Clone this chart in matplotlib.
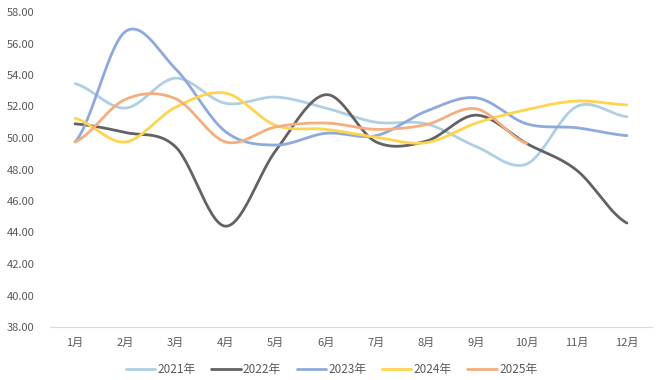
import matplotlib.pyplot as plt
import numpy as np

plt.rcParams['font.family'] = ['Noto Sans CJK SC', 'DejaVu Sans']

months = [f"{m}月" for m in range(1, 13)]
v2021 = [53.45, 51.9, 53.8, 52.2, 52.6, 51.9, 51.0, 50.9, 49.45, 48.35, 52.0, 51.35]
v2022 = [50.9, 50.35, 49.45, 44.4, 49.2, 52.75, 49.75, 49.8, 51.45, 49.65, 47.95, 44.6]
v2023 = [49.75, 56.75, 54.4, 50.4, 49.55, 50.3, 50.15, 51.7, 52.55, 50.9, 50.65, 50.15]
v2024 = [51.25, 49.75, 51.95, 52.85, 50.8, 50.55, 50.05, 49.7, 50.95, 51.8, 52.35, 52.1]
v2025 = [49.75, 52.45, 52.5, 49.75, 50.7, 50.95, 50.55, 50.85, 51.85, 49.65]

series = [
    ("2021年", v2021, "#AFCFE5"),
    ("2022年", v2022, "#626262"),
    ("2023年", v2023, "#8EA9DD"),
    ("2024年", v2024, "#FFD44F"),
    ("2025年", v2025, "#F4AE7F"),
]


def smooth(y, n=30):
    # Catmull-Rom style smoothing, like Excel's "smoothed line"
    y = np.asarray(y, dtype=float)
    x = np.arange(len(y), dtype=float)
    xs, ys = [], []
    for i in range(len(y) - 1):
        p0 = y[i - 1] if i > 0 else y[i]
        p3 = y[i + 2] if i + 2 < len(y) else y[i + 1]
        p1, p2 = y[i], y[i + 1]
        t = np.linspace(0, 1, n, endpoint=False)
        ys.append(0.5 * ((2 * p1) + (-p0 + p2) * t
                         + (2 * p0 - 5 * p1 + 4 * p2 - p3) * t ** 2
                         + (-p0 + 3 * p1 - 3 * p2 + p3) * t ** 3))
        xs.append(x[i] + t)
    xs.append([x[-1]])
    ys.append([y[-1]])
    return np.concatenate(xs), np.concatenate(ys)


fig = plt.figure(figsize=(6.63, 3.80), dpi=100)
ax = fig.add_axes([50 / 663, 1 - 327 / 380, 602 / 663, 315 / 380])

for name, vals, color in series:
    sx, sy = smooth(vals)
    ax.plot(sx, sy, color=color, lw=2.0, label=name, solid_capstyle='round')

ax.set_xlim(-0.5, 11.5)
ax.set_ylim(38, 58)
ax.set_yticks(np.arange(38, 58.1, 2))
ax.set_yticklabels([f"{v:.2f}" for v in np.arange(38, 58.1, 2)])
ax.set_xticks(range(12))
ax.set_xticklabels(months)
ax.tick_params(length=0, labelsize=8, labelcolor="#595959")
ax.tick_params(axis='y', pad=11)
ax.tick_params(axis='x', pad=8)
for s in ["top", "right", "left"]:
    ax.spines[s].set_visible(False)
ax.spines["bottom"].set_color("#D9D9D9")
ax.spines["bottom"].set_linewidth(0.8)

fig.legend(loc="center", bbox_to_anchor=(0.5, 1 - 370 / 380), ncol=5,
           frameon=False, fontsize=8.5, labelcolor="#595959",
           handlelength=2.5, handletextpad=0.2, columnspacing=1.3)

fig.savefig("out.png", dpi=100)
